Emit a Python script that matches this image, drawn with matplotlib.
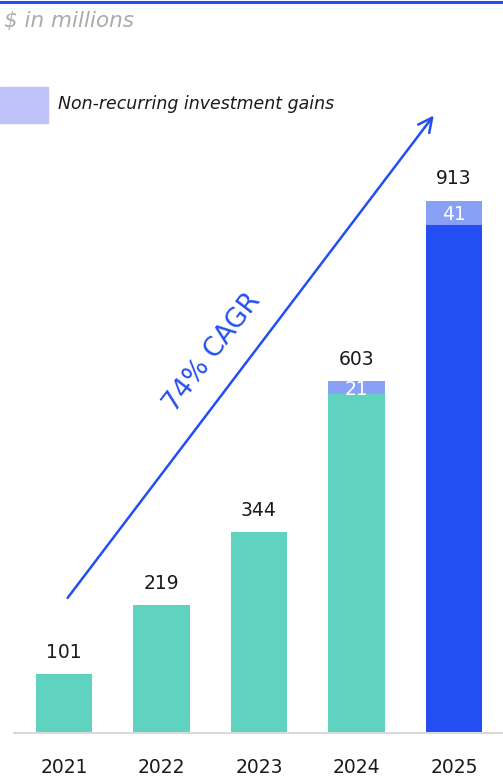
import matplotlib
matplotlib.use("Agg")
import matplotlib.pyplot as plt

years = ["2021", "2022", "2023", "2024", "2025"]
totals = [101, 219, 344, 603, 913]
gains = [0, 0, 0, 21, 41]
base_colors = ["#5fd3c0", "#5fd3c0", "#5fd3c0", "#5fd3c0", "#234ff2"]
gain_color = "#88a0f6"
legend_color = "#c0c3f7"

W, H = 503, 777
fig = plt.figure(figsize=(W / 100, H / 100), dpi=100)
plt.rcParams['font.family'] = ['DejaVu Sans']

ax = fig.add_axes([14 / W, (H - 733) / H, (W - 14) / W, 733 / H])
x = list(range(len(years)))
core = [t - g for t, g in zip(totals, gains)]
ax.bar(x, core, width=0.575, color=base_colors, zorder=2)
ax.bar(x, gains, bottom=core, width=0.575, color=gain_color, zorder=2)
ax.set_xlim(-0.513, 4.503)
ax.set_ylim(0, 733 / 0.583)

for xi, t, g, c in zip(x, totals, gains, core):
    ax.annotate(str(t), (xi, t), xytext=(0, 9), textcoords="offset points",
                ha="center", va="bottom", fontsize=13.5, color="#1a1a1a")
    if g > 0:
        ax.text(xi, c + g / 2 - 3, str(g), ha="center", va="center",
                fontsize=13.5, color="white", zorder=3)

for s in ["top", "right", "left"]:
    ax.spines[s].set_visible(False)
ax.spines["bottom"].set_color("#d9d9d9")
ax.spines["bottom"].set_linewidth(1.5)
ax.set_yticks([])
ax.set_xticks(x)
ax.set_xticklabels(years, fontsize=13.5, color="#1a1a1a")
ax.tick_params(axis="x", length=0, pad=18)

# CAGR arrow
ax.annotate("", xy=(3.81, 1063), xytext=(0.02, 228),
            arrowprops=dict(arrowstyle="->,head_length=1.0,head_width=0.5",
                            color="#234ff2", lw=1.8), zorder=4)
ax.text(1.52, 652, "74% CAGR", rotation=52.5, rotation_mode="anchor",
        ha="center", va="center", fontsize=19, color="#234ff2")

# top line
fig.add_artist(plt.Line2D([0, 1], [1 - 2 / H, 1 - 2 / H], color="#234ff2", lw=2.2,
                          transform=fig.transFigure))
fig.text(4 / W, 1 - 21 / H, "$ in millions", fontsize=15.5, style="italic",
         color="#ababab", ha="left", va="center")

# legend
fig.add_artist(plt.Rectangle((0, 1 - 123 / H), 48 / W, 36 / H, color=legend_color,
                             transform=fig.transFigure))
fig.text(58 / W, 1 - 104 / H, "Non-recurring investment gains", fontsize=12.5,
         style="italic", color="#1a1a1a", ha="left", va="center")

fig.savefig("out.png", dpi=100)
